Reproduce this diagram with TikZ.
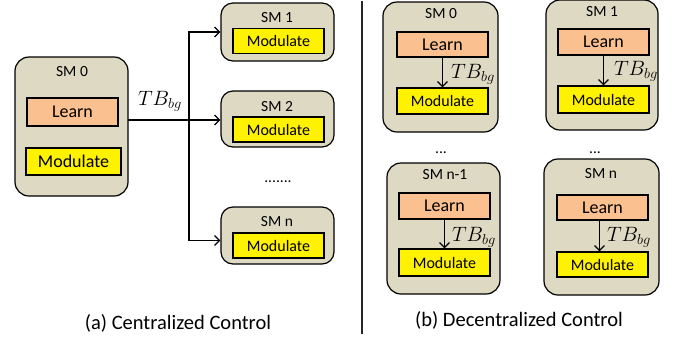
\documentclass[tikz,border=0pt]{standalone}
\usepackage{fontspec}
\setmainfont{Carlito}
\usepackage{tikz}
\usetikzlibrary{arrows.meta}

\definecolor{smtan}{HTML}{DDD9C3}
\definecolor{learnc}{HTML}{FAC08F}

\tikzset{
  smbox/.style={draw=black, fill=smtan, line width=1.2pt, rounded corners=14pt, inner sep=0pt},
  learnbox/.style={draw=black, fill=learnc, line width=1.2pt, inner sep=0pt, minimum width=91pt, minimum height=26pt, font=\fontsize{18}{20}\selectfont},
  modbox/.style={draw=black, fill=yellow, line width=1.2pt, inner sep=0pt, minimum width=91pt, minimum height=25pt, font=\fontsize{16}{18}\selectfont},
  smlab/.style={font=\fontsize{15.5}{17}\selectfont, inner sep=0pt},
  tblab/.style={font=\fontsize{21}{23}\selectfont, inner sep=0pt},
  capt/.style={font=\fontsize{20.5}{23}\selectfont, inner sep=0pt},
  conn/.style={line width=1.2pt, -{Straight Barb[length=5pt,width=10pt]}}
}

\begin{document}
\begin{tikzpicture}[x=1pt,y=-1pt]
\useasboundingbox (0,0) rectangle (677,341);

% (a) centralized
\node[smbox, minimum width=113pt, minimum height=139pt] (sm0) at (71.5,126.5) {};
\node[smlab] (sm0t) at (72,72) {SM 0};
\node[learnbox, minimum height=28pt] (learn0) at (72.5,112) {Learn};
\node[modbox, minimum width=95pt, minimum height=27pt, font=\fontsize{18}{20}\selectfont] (mod0) at (73.5,161.5) {Modulate};

\node[smbox, rounded corners=12pt, minimum width=113pt, minimum height=58pt] (sm1) at (277.5,32) {};
\node[smlab] (sm1t) at (277,18) {SM 1};
\node[modbox] (mod1) at (278.5,41) {Modulate};

\node[smbox, rounded corners=12pt, minimum width=113pt, minimum height=56pt] (sm2) at (277.5,119) {};
\node[smlab] (sm2t) at (277,107) {SM 2};
\node[modbox] (mod2) at (278.5,129.5) {Modulate};

\node[smlab] (cdots) at (278,182) {.......};

\node[smbox, rounded corners=12pt, minimum width=113pt, minimum height=57pt] (smn) at (277.5,235.5) {};
\node[smlab] (smnt) at (277,222) {SM n};
\node[modbox] (modn) at (278.5,245.5) {Modulate};

\coordinate (out0) at (128,120);
\coordinate (jn) at (189,120);
\draw[line width=1.2pt] (out0) -- (jn);
\draw[conn] (jn) |- (sm1.west);
\draw[conn] (jn) -- (sm2.west |- jn);
\draw[conn] (jn) |- ([yshift=-5pt]smn.west);
\node[tblab] (tb0) at (160,101) {$TB_{bg}$};

\node[capt] (capa) at (178,323) {(a) Centralized Control};

% divider
\coordinate (divt) at (362,1);
\coordinate (divb) at (362,334);
\draw[line width=1.4pt, black!85] (divt) -- (divb);

% (b) decentralized
\node[smbox, minimum width=115pt, minimum height=130pt] (dsm0) at (440.5,67) {};
\node[smlab] (dsm0t) at (441,14) {SM 0};
\node[learnbox, minimum height=25pt] (dlearn0) at (442.5,44.5) {Learn};
\node[modbox, minimum height=26pt] (dmod0) at (442.5,101) {Modulate};
\draw[conn] (dlearn0.south) -- (dlearn0.south |- dmod0.north);
\node[tblab] (dtb0) at (473,74) {$TB_{bg}$};

\node[smbox, minimum width=112pt, minimum height=130pt] (dsm1) at (602,65) {};
\node[smlab] (dsm1t) at (602,12) {SM 1};
\node[learnbox, minimum height=26pt] (dlearn1) at (603.5,42) {Learn};
\node[modbox, minimum height=27pt] (dmod1) at (603.5,99.5) {Modulate};
\draw[conn] (dlearn1.south) -- (dlearn1.south |- dmod1.north);
\node[tblab] (dtb1) at (636,71) {$TB_{bg}$};

\node[smlab] (ddots0) at (441,153) {...};
\node[smlab] (ddots1) at (595,153) {...};

\node[smbox, minimum width=113pt, minimum height=131pt] (dsm2) at (443.5,228.5) {};
\node[smlab] (dsm2t) at (445,175) {SM n-1};
\node[learnbox, minimum height=26pt] (dlearn2) at (444.5,206) {Learn};
\node[modbox, minimum height=27pt] (dmod2) at (444.5,262.5) {Modulate};
\draw[conn] (dlearn2.south) -- (dlearn2.south |- dmod2.north);
\node[tblab] (dtb2) at (474,237) {$TB_{bg}$};

\node[smbox, minimum width=115pt, minimum height=136pt] (dsm3) at (601.5,227) {};
\node[smlab] (dsm3t) at (601,174) {SM n};
\node[learnbox, minimum height=25pt] (dlearn3) at (602.5,207.5) {Learn};
\node[modbox, minimum height=25pt] (dmod3) at (602.5,264.5) {Modulate};
\draw[conn] ([xshift=-3pt]dlearn3.south) -- ([xshift=-3pt]dlearn3.south |- dmod3.north);
\node[tblab] (dtb3) at (629,237) {$TB_{bg}$};

\node[capt] (capb) at (519,320) {(b) Decentralized Control};

\end{tikzpicture}
\end{document}
